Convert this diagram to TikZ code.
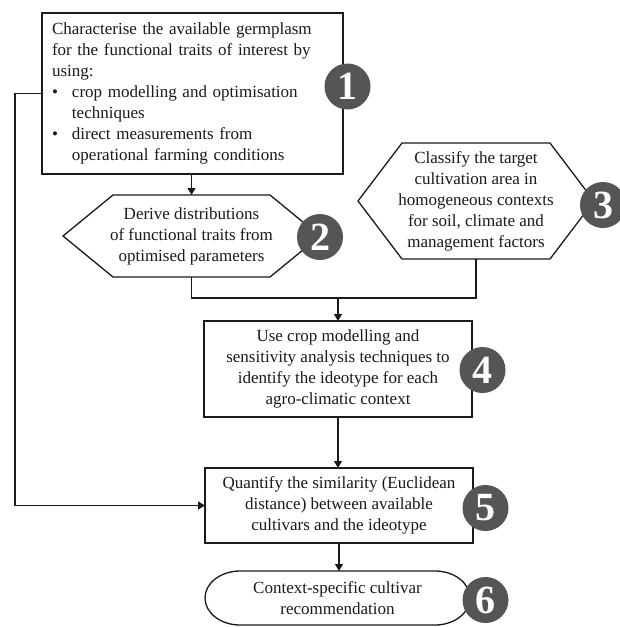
\documentclass[tikz,border=0pt]{standalone}
\usepackage{fontspec}
\setmainfont{Liberation Serif}
\usetikzlibrary{arrows.meta,calc}
\definecolor{ink}{HTML}{1A1A1A}
\definecolor{badgegray}{HTML}{555555}
\tikzset{
  txt/.style={font=\fontsize{17}{21}\selectfont, text=ink},
  box/.style={txt, draw=ink, line width=1.3pt, rectangle, inner sep=0pt, outer sep=0pt, align=center},
  plain/.style={txt, inner sep=0pt, outer sep=0pt, align=center},
  badge/.style={circle, fill=badgegray, minimum size=46pt, inner sep=0pt, text=white, font=\fontsize{40}{40}\selectfont\bfseries},
  conn/.style={draw=ink, line width=1.3pt},
  arr/.style={conn, -{Triangle[length=7pt,width=8pt]}},
}
\begin{document}
\begin{tikzpicture}[x=1pt,y=-1pt]
\useasboundingbox[fill=white] (0,0) rectangle (620,627);

% Box 1
\node[box, text width=281pt, inner xsep=10pt, minimum height=161pt, align=left] (b1) at (192.5,93.5)
 {Characterise the available germplasm\\
  for the functional traits of interest by\\
  using:\\
  \makebox[20pt][l]{•}crop modelling and optimisation\\
  \hspace*{20pt}techniques\\
  \makebox[20pt][l]{•}direct measurements from\\
  \hspace*{20pt}operational farming conditions};

% Hexagon 2
\node[plain, minimum width=257pt, minimum height=82pt] (h2) at (191.5,236)
 {Derive distributions\\of functional traits from\\optimised parameters};
\draw[conn] (h2.west) -- ($(h2.north west)+(50,0)$) -- ($(h2.north east)+(-50,0)$) -- (h2.east)
  -- ($(h2.south east)+(-50,0)$) -- ($(h2.south west)+(50,0)$) -- cycle;

% Hexagon 3
\node[plain, minimum width=236pt, minimum height=116pt] (h3) at (476,201)
 {Classify the target\\cultivation area in\\homogeneous contexts\\for soil, climate and\\management factors};
\draw[conn] (h3.west) -- ($(h3.north west)+(44,0)$) -- ($(h3.north east)+(-44,0)$) -- (h3.east)
  -- ($(h3.south east)+(-44,0)$) -- ($(h3.south west)+(44,0)$) -- cycle;

% Box 4
\node[box, minimum width=268pt, minimum height=96pt] (b4) at (338,369)
 {Use crop modelling and\\sensitivity analysis techniques to\\identify the ideotype for each\\agro-climatic context};

% Box 5
\node[box, minimum width=268pt, minimum height=75pt] (b5) at (339,505.5)
 {Quantify the similarity (Euclidean\\distance) between available\\cultivars and the ideotype};

% Terminal 6
\node[plain, minimum width=265pt, minimum height=54pt] (s6) at (337.5,598)
 {Context-specific cultivar\\recommendation};
\draw[conn] ($(s6.north west)+(35,0)$) -- ($(s6.north east)+(-35,0)$)
  arc[start angle=-90, end angle=90, x radius=35, y radius=27]
  -- ($(s6.south west)+(35,0)$)
  arc[start angle=90, end angle=270, x radius=35, y radius=27] -- cycle;

% Connectors
\coordinate (j) at ($(b4.north)+(0,-23)$);
\coordinate (lft) at (15,93.5);
\draw[arr] (b1.south -| h2.north) -- (h2.north);
\draw[conn] (h2.south) |- (j);
\draw[conn] (h3.south) |- (j);
\draw[arr] (j) -- (b4.north);
\draw[arr] (b4.south) -- (b4.south |- b5.north);
\draw[arr] (b5.south) -- (b5.south |- s6.north);
\draw[arr] (b1.west) -- (lft) |- (b5.west);

% Badges
\node[badge] (c1) at (347.5,86.5) {1};
\node[badge] (c2) at (320,237) {2};
\node[badge] (c3) at (603,205) {3};
\node[badge] (c4) at (482.5,370) {4};
\node[badge] (c5) at (485.5,508) {5};
\node[badge] (c6) at (485.5,600) {6};
\end{tikzpicture}
\end{document}
